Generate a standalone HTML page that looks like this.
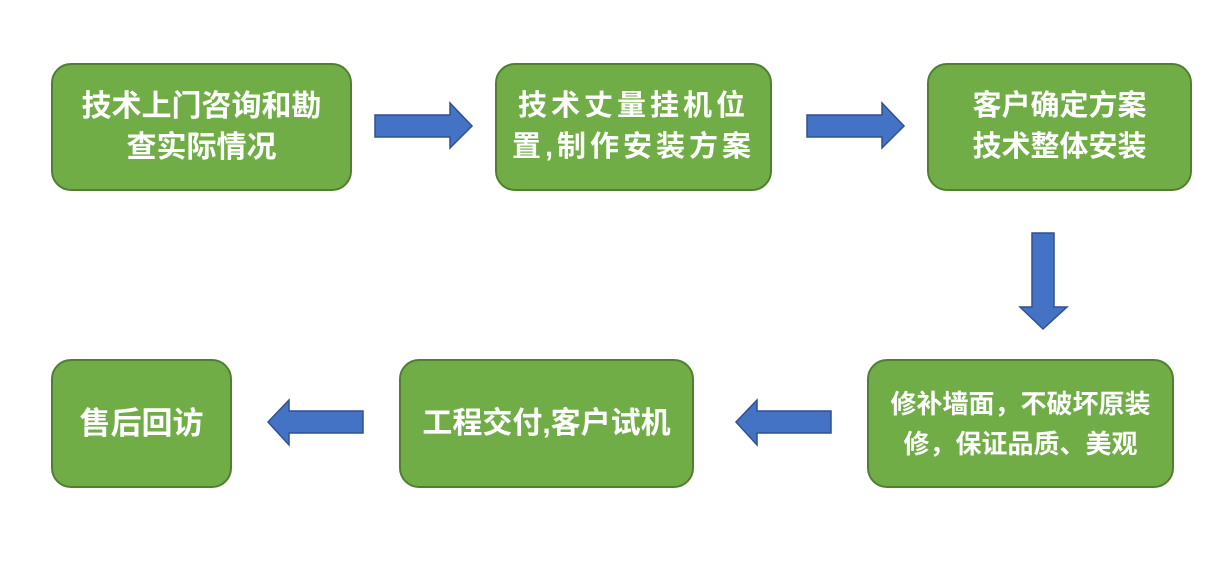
<!DOCTYPE html>
<html><head><meta charset="utf-8"><style>
body{margin:0;width:1220px;height:566px;background:#fff;position:relative;overflow:hidden;font-family:"Liberation Sans","Noto Sans CJK SC",sans-serif;}
.b{position:absolute;box-sizing:border-box;background:#70ad47;border:2px solid #507e32;border-radius:20px;color:#fff;font-weight:bold;display:flex;align-items:center;justify-content:center;text-align:center;font-size:30px;line-height:41px;}
svg{position:absolute;left:0;top:0}
</style></head><body>
<div class="b" style="left:51px;top:63px;width:301px;height:128px">技术上门咨询和勘<br>查实际情况</div>
<div class="b" style="left:495px;top:63px;width:277px;height:128px;font-size:29px;letter-spacing:4px">技术丈量挂机位<br>置,制作安装方案</div>
<div class="b" style="left:927px;top:63px;width:265px;height:128px;font-size:29px">客户确定方案<br>技术整体安装</div>
<div class="b" style="left:867px;top:359px;width:307px;height:129px;font-size:26px;line-height:40px">修补墙面，不破坏原装<br>修，保证品质、美观</div>
<div class="b" style="left:399px;top:359px;width:295px;height:129px">工程交付,客户试机</div>
<div class="b" style="left:51px;top:359px;width:181px;height:129px;font-size:31px">售后回访</div>
<svg width="1220" height="566">
<g fill="#4472c4" stroke="#2f528f" stroke-width="1.5">
<polygon points="375,115 450,115 450,103 472,126 450,148 450,137 375,137"/>
<polygon points="807,115 882,115 882,103 904,126 882,148 882,137 807,137"/>
<polygon points="1032,233 1054,233 1054,307 1067,307 1043,329 1020,307 1032,307"/>
<polygon points="831,411 757,411 757,400 736,422 757,445 757,433 831,433"/>
<polygon points="363,411 289,411 289,400 268,422 289,445 289,433 363,433"/>
</g></svg>
</body></html>
